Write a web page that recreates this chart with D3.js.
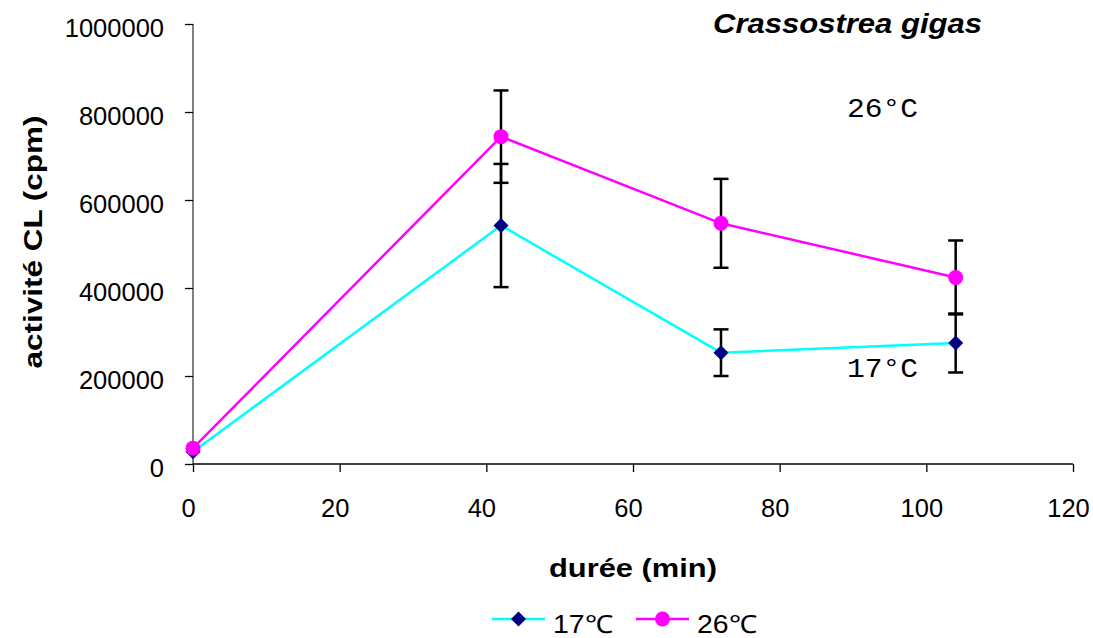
<!DOCTYPE html>
<html>
<head>
<meta charset="utf-8">
<script src="https://cdn.jsdelivr.net/npm/d3@7"></script>
<style>
  body { margin: 0; background: #fff; }
  svg { display: block; font-family: Arial, "Liberation Sans", sans-serif; }
</style>
</head>
<body>
<svg id="chart" width="1093" height="638"></svg>
<script>
// durée (min)
const times = [0, 42, 72, 104];
// activité CL (cpm), mean and error
const mean17 = [28000, 542000, 253000, 275000];
const err17 = [0, 140000, 53000, 67000];
const mean26 = [36000, 744000, 547000, 424000];
const err26 = [0, 105000, 101000, 84000];
const xTicks = [0, 20, 40, 60, 80, 100, 120];
const yTicks = [0, 200000, 400000, 600000, 800000, 1000000];

const series = [
  { name: "17℃", mean: mean17, err: err17, line: "#00ffff", marker: "diamond", fill: "#000080" },
  { name: "26℃", mean: mean26, err: err26, line: "#ff00ff", marker: "circle", fill: "#ff00ff" },
];

const svg = d3.select("#chart");
const margin = { top: 24, right: 20, bottom: 174, left: 193 };
const width = 1093 - margin.left - margin.right;
const height = 638 - margin.top - margin.bottom;

const x = d3.scaleLinear().domain([0, 120]).range([0, width]);
const y = d3.scaleLinear().domain([0, 1000000]).range([height, 0]);

const g = svg.append("g").attr("transform", `translate(${margin.left},${margin.top})`);

// axes
const yAxis = g.append("g")
  .call(d3.axisLeft(y).tickValues(yTicks).tickSize(8).tickPadding(21).tickFormat(d3.format("d")));
yAxis.select(".domain").attr("stroke", "#808080").attr("stroke-width", 2).attr("d", `M0,0V${height}`);
yAxis.selectAll(".tick line").attr("stroke", "#000").attr("stroke-width", 1.3);
yAxis.selectAll("text").attr("font-size", 25.5).attr("fill", "#000").attr("transform", "translate(0,4)");

const xAxis = g.append("g")
  .attr("transform", `translate(0,${height})`)
  .call(d3.axisBottom(x).tickValues(xTicks).tickSize(8).tickPadding(27));
xAxis.select(".domain").attr("stroke", "#000").attr("stroke-width", 1.3).attr("d", `M0,0H${width}`);
xAxis.selectAll(".tick line").attr("stroke", "#000").attr("stroke-width", 1.3);
xAxis.selectAll("text").attr("font-size", 25.5).attr("fill", "#000").attr("dx", -5);

// lines
const line = d3.line().x((d, i) => x(times[i])).y((d) => y(d));
series.forEach((s) => {
  g.append("path")
    .datum(s.mean)
    .attr("fill", "none")
    .attr("stroke", s.line)
    .attr("stroke-width", 2.5)
    .attr("d", line);
});

// error bars
series.forEach((s) => {
  const eb = g.append("g").attr("stroke", "#000").attr("stroke-width", 2.5);
  s.mean.forEach((m, i) => {
    if (!s.err[i]) return;
    const cx = x(times[i]);
    const lo = y(m - s.err[i]);
    const hi = y(m + s.err[i]);
    eb.append("line").attr("x1", cx).attr("x2", cx).attr("y1", lo).attr("y2", hi);
    eb.append("line").attr("x1", cx - 7.5).attr("x2", cx + 7.5).attr("y1", lo).attr("y2", lo);
    eb.append("line").attr("x1", cx - 7.5).attr("x2", cx + 7.5).attr("y1", hi).attr("y2", hi);
  });
});

function drawMarker(sel, s, cx, cy) {
  if (s.marker === "diamond") {
    sel.append("path")
      .attr("d", `M${cx},${cy - 7.5}L${cx + 7.5},${cy}L${cx},${cy + 7.5}L${cx - 7.5},${cy}Z`)
      .attr("fill", s.fill);
  } else {
    sel.append("circle").attr("cx", cx).attr("cy", cy).attr("r", 7.5).attr("fill", s.fill);
  }
}

series.forEach((s) => {
  const mg = g.append("g");
  s.mean.forEach((m, i) => drawMarker(mg, s, x(times[i]), y(m)));
});

// annotations
svg.append("text").attr("x", 713).attr("y", 33)
  .attr("font-size", 28).attr("font-weight", "bold").attr("font-style", "italic")
  .attr("textLength", 269).attr("lengthAdjust", "spacingAndGlyphs")
  .text("Crassostrea gigas");

const mono = "'Liberation Mono', 'Courier New', monospace";
svg.append("text").attr("x", 847).attr("y", 117)
  .attr("font-family", mono).attr("font-size", 27.5)
  .attr("textLength", 71).attr("lengthAdjust", "spacingAndGlyphs")
  .text("26°C");
svg.append("text").attr("x", 847).attr("y", 377)
  .attr("font-family", mono).attr("font-size", 27.5)
  .attr("textLength", 71).attr("lengthAdjust", "spacingAndGlyphs")
  .text("17°C");

// axis titles
svg.append("text")
  .attr("transform", `translate(42,242) rotate(-90)`)
  .attr("text-anchor", "middle")
  .attr("font-size", 26.5).attr("font-weight", "bold")
  .attr("textLength", 253).attr("lengthAdjust", "spacingAndGlyphs")
  .text("activité CL (cpm)");

svg.append("text")
  .attr("x", 633).attr("y", 577)
  .attr("text-anchor", "middle")
  .attr("font-size", 26.5).attr("font-weight", "bold")
  .attr("textLength", 168).attr("lengthAdjust", "spacingAndGlyphs")
  .text("durée (min)");

// legend
const legendPos = [492, 636];
series.forEach((s, i) => {
  const lx = legendPos[i];
  const lg = svg.append("g");
  lg.append("line").attr("x1", lx).attr("x2", lx + 53).attr("y1", 619).attr("y2", 619)
    .attr("stroke", s.line).attr("stroke-width", 2.5);
  drawMarker(lg, s, lx + 26.5, 619);
  lg.append("text").attr("x", lx + 61).attr("y", 633)
    .attr("font-size", 25)
    .attr("textLength", 60).attr("lengthAdjust", "spacingAndGlyphs")
    .text(s.name);
});
</script>
</body>
</html>
